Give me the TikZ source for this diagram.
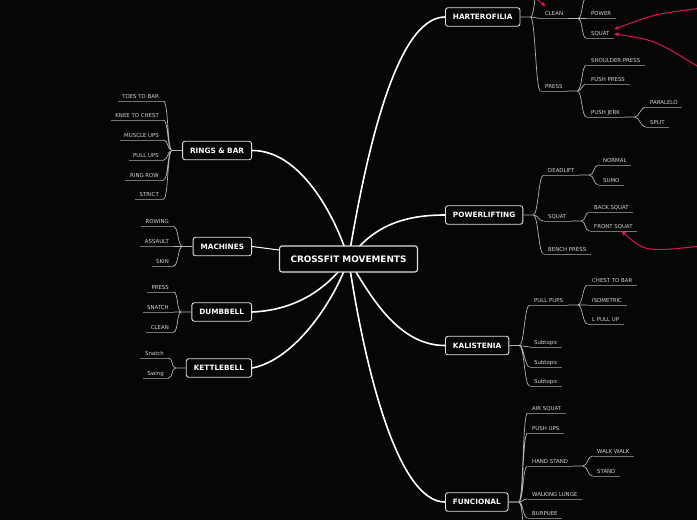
\documentclass[tikz,border=0pt]{standalone}
\usepackage{fontspec}
\setmainfont{DejaVu Sans}
\usetikzlibrary{arrows.meta,backgrounds}
\definecolor{bg}{RGB}{5,6,8}
\definecolor{pinkred}{RGB}{226,17,88}
\definecolor{subtxt}{RGB}{212,212,212}
\definecolor{uline}{RGB}{115,115,115}
\definecolor{twig}{RGB}{178,178,178}
\tikzset{
  topic/.style={draw=white!88!black, fill=bg, text=white, rounded corners=2.5pt,
    line width=0.9pt, font=\fontsize{7.3}{8}\selectfont\bfseries,
    inner xsep=7.5pt, minimum height=18.5pt},
  rootbox/.style={topic, font=\fontsize{8.9}{10}\selectfont\bfseries,
    inner xsep=11pt, minimum height=26pt, line width=1.1pt},
  sub/.style={text=subtxt, font=\fontsize{5.4}{6}\selectfont,
    inner xsep=4.5pt, inner ysep=2.5pt, text height=3.9pt, text depth=0pt,
    append after command={(\tikzlastnode.south west) edge[draw=uline, line width=0.8pt] (\tikzlastnode.south east)}},
  subR/.style={sub, anchor=south west},
  subL/.style={sub, anchor=south east},
  limb/.style={draw=white, line width=1.6pt},
  twigR/.style={draw=twig, line width=0.7pt,
    to path={-- ++(10,0) .. controls +(5,0) and +(-5,0) .. (\tikztotarget)}},
  twigL/.style={draw=twig, line width=0.7pt,
    to path={-- ++(-10,0) .. controls +(-5,0) and +(5,0) .. (\tikztotarget)}},
  redarrow/.style={draw=pinkred, line width=1pt, -{Stealth[length=5pt,width=4.5pt]}}
}
\begin{document}
\begin{tikzpicture}[x=1pt,y=-1pt]
    \useasboundingbox (0,0) rectangle (697,520);
    \begin{scope}[on background layer]
    \fill[bg] (0,0) rectangle (697,520);
    \end{scope}
    % central topic and main branches
    \node[rootbox] (root) at (348.5,259) {CROSSFIT MOVEMENTS};
    \node[topic, anchor=west] (hart) at (445,17) {HARTEROFILIA};
    \node[topic, anchor=west] (power) at (445,215) {POWERLIFTING};
    \node[topic, anchor=west] (kal) at (445,345.5) {KALISTENIA};
    \node[topic, anchor=west] (func) at (445,502) {FUNCIONAL};
    \node[topic, anchor=east] (rings) at (252,150.5) {RINGS \& BAR};
    \node[topic, anchor=east] (mach) at (252,246.5) {MACHINES};
    \node[topic, anchor=east] (dumb) at (252,312) {DUMBBELL};
    \node[topic, anchor=east] (kettle) at (252,368) {KETTLEBELL};
    % harterofilia
    \coordinate (hup) at (540.5,-30);
    \node[subR] (hclean) at (540.5,18.5) {CLEAN};
    \node[subR] (hpress) at (540.5,91) {PRESS};
    \coordinate (cup) at (586.5,-2);
    \node[subR] (hpower) at (586.5,18.5) {POWER};
    \node[subR] (hsquat) at (586.5,38.5) {SQUAT};
    \node[subR] (hshp) at (586.5,65) {SHOULDER PRESS};
    \node[subR] (hpp) at (586.5,84) {PUSH PRESS};
    \node[subR] (hpj) at (586.5,117) {PUSH JERK};
    \node[subR] (hpar) at (645.5,107) {PARALELO};
    \node[subR] (hsplit) at (645.5,127) {SPLIT};
    % powerlifting
    \node[subR] (pdead) at (543.5,175) {DEADLIFT};
    \node[subR] (psquat) at (543.5,221) {SQUAT};
    \node[subR] (pbench) at (543.5,254) {BENCH PRESS};
    \node[subR] (pnorm) at (598.5,165) {NORMAL};
    \node[subR] (psumo) at (598.5,185) {SUMO};
    \node[subR] (pback) at (589.5,212) {BACK SQUAT};
    \node[subR] (pfront) at (589.5,231) {FRONT SQUAT};
    % kalistenia
    \node[subR] (kpull) at (529.5,305) {PULL PUPS};
    \node[subR] (ks1) at (529.5,347) {Subtopic};
    \node[subR] (ks2) at (529.5,367) {Subtopic};
    \node[subR] (ks3) at (529.5,386) {Subtopic};
    \node[subR] (kchest) at (587.5,285) {CHEST TO BAR};
    \node[subR] (kiso) at (587.5,305) {ISOMETRIC};
    \node[subR] (klpull) at (587.5,324) {L PULL UP};
    % funcional
    \node[subR] (fair) at (527.5,413) {AIR SQUAT};
    \node[subR] (fpush) at (527.5,433) {PUSH UPS};
    \node[subR] (fhand) at (527.5,466) {HAND STAND};
    \node[subR] (flunge) at (527.5,499) {WALKING LUNGE};
    \node[subR] (fburp) at (527.5,518) {BURPUEE};
    \coordinate (fdown) at (527.5,545);
    \node[subR] (fwalk) at (592.5,456) {WALK WALK};
    \node[subR] (fstand) at (592.5,476) {STAND};
    % left side
    \node[subL] (rtoes) at (163.5,101) {TOES TO BAR};
    \node[subL] (rknee) at (163.5,120) {KNEE TO CHEST};
    \node[subL] (rmuscle) at (163.5,140) {MUSCLE UPS};
    \node[subL] (rpull) at (163.5,160) {PULL UPS};
    \node[subL] (rring) at (163.5,180) {RING ROW};
    \node[subL] (rstrict) at (163.5,199) {STRICT};
    \node[subL] (mrow) at (173.5,226.5) {ROWING};
    \node[subL] (massault) at (173.5,246.5) {ASSAULT};
    \node[subL] (mskin) at (173.5,266) {SKIN};
    \node[subL] (dpress) at (173.5,292) {PRESS};
    \node[subL] (dsnatch) at (173.5,312) {SNATCH};
    \node[subL] (dclean) at (173.5,332) {CLEAN};
    \node[subL] (ksnatch) at (168.5,358) {Snatch};
    \node[subL] (kswing) at (168.5,378) {Swing};
    % limbs from the centre
    \begin{scope}[on background layer]
    \draw[limb] (root.center) .. controls (365,160) and (395,17) .. (hart.west);
    \draw[limb] (root.center) .. controls (372,228) and (400,215) .. (power.west);
    \draw[limb] (root.center) .. controls (372,300) and (400,345.5) .. (kal.west);
    \draw[limb] (root.center) .. controls (365,370) and (398,502) .. (func.west);
    \draw[limb] (rings.east) .. controls (300,150) and (335,215) .. (root.center);
    \draw[limb, line width=1pt] (mach.east) -- (root.center);
    \draw[limb] (dumb.east) .. controls (300,310) and (330,285) .. (root.center);
    \draw[limb] (kettle.east) .. controls (295,360) and (335,300) .. (root.center);
    \end{scope}
    % twigs
    \draw[twigR] (hart.east) to (hup) (hart.east) to (hclean.south west) (hart.east) to (hpress.south west);
    \draw[twigR] (hclean.south east) to (cup) (hclean.south east) to (hpower.south west) (hclean.south east) to (hsquat.south west);
    \draw[twigR] (hpress.south east) to (hshp.south west) (hpress.south east) to (hpp.south west) (hpress.south east) to (hpj.south west);
    \draw[twigR] (hpj.south east) to (hpar.south west) (hpj.south east) to (hsplit.south west);
    \draw[twigR] (power.east) to (pdead.south west) (power.east) to (psquat.south west) (power.east) to (pbench.south west);
    \draw[twigR] (pdead.south east) to (pnorm.south west) (pdead.south east) to (psumo.south west);
    \draw[twigR] (psquat.south east) to (pback.south west) (psquat.south east) to (pfront.south west);
    \draw[twigR] (kal.east) to (kpull.south west) (kal.east) to (ks1.south west) (kal.east) to (ks2.south west) (kal.east) to (ks3.south west);
    \draw[twigR] (kpull.south east) to (kchest.south west) (kpull.south east) to (kiso.south west) (kpull.south east) to (klpull.south west);
    \draw[twigR] (func.east) to (fair.south west) (func.east) to (fpush.south west) (func.east) to (fhand.south west);
    \draw[twigR] (func.east) to (flunge.south west) (func.east) to (fburp.south west) (func.east) to (fdown);
    \draw[twigR] (fhand.south east) to (fwalk.south west) (fhand.south east) to (fstand.south west);
    \draw[twigL] (rings.west) to (rtoes.south east) (rings.west) to (rknee.south east) (rings.west) to (rmuscle.south east);
    \draw[twigL] (rings.west) to (rpull.south east) (rings.west) to (rring.south east) (rings.west) to (rstrict.south east);
    \draw[twigL] (mach.west) to (mrow.south east) (mach.west) to (massault.south east) (mach.west) to (mskin.south east);
    \draw[twigL] (dumb.west) to (dpress.south east) (dumb.west) to (dsnatch.south east) (dumb.west) to (dclean.south east);
    \draw[twigL] (kettle.west) to (ksnatch.south east) (kettle.west) to (kswing.south east);
    % red links
    \coordinate (ra) at (531.5,-5);
    \coordinate (rb) at (702,8);
    \coordinate (rc) at (702,69);
    \coordinate (rd) at (702,246);
    \draw[redarrow] (ra) -- ([xshift=5pt,yshift=3pt]hclean.north west);
    \draw[redarrow] (rb) .. controls (655,14) .. (hsquat.north east);
    \draw[redarrow] (rc) .. controls (655,40) .. (hsquat.east);
    \draw[redarrow] (rd) .. controls (645,252) .. ([xshift=8pt]pfront.south);
\end{tikzpicture}
\end{document}
